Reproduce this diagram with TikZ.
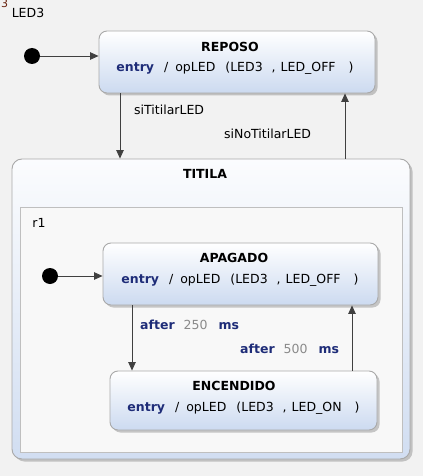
\documentclass[tikz,border=0pt]{standalone}
\usepackage{fontspec}
\setmainfont{DejaVu Sans}
\usetikzlibrary{arrows.meta,shadows,calc}
\definecolor{bg}{HTML}{F2F2F2}
\definecolor{kw}{RGB}{30,44,120}
\definecolor{num}{HTML}{8A8A8A}
\definecolor{bord}{HTML}{A9A9A9}
\definecolor{lnk}{HTML}{404040}
\definecolor{stbot}{HTML}{CCDAF0}
\definecolor{regfill}{HTML}{F8F8F8}
\definecolor{tinyred}{HTML}{6A2410}
\newcommand\myentry[1]{\textcolor{kw}{\textbf{entry}}\hspace{10pt}/\hspace{7pt}opLED\hspace{10pt}(LED3\hspace{9pt},\hspace{5pt}#1\hspace{13pt})}
\begin{document}
\begin{tikzpicture}[x=1pt,y=-1pt,
  every node/.style={font=\fontsize{12.5}{15}\selectfont, inner sep=0pt},
  statebox/.style={draw=bord, line width=0.9pt, rounded corners=8pt, top color=white, bottom color=stbot,
     drop shadow={shadow xshift=2.5pt, shadow yshift=-2.5pt, opacity=0.35, fill=black!60}},
  compbox/.style={draw=bord, line width=0.9pt, rounded corners=10pt, top color=white!60!stbot!20, bottom color=stbot!90,
     drop shadow={shadow xshift=2.5pt, shadow yshift=-2.5pt, opacity=0.35, fill=black!60}},
  regionbox/.style={draw=black!25, line width=0.8pt, fill=regfill},
  initdot/.style={circle, fill=black, minimum size=16pt},
  tr/.style={draw=lnk, line width=0.8pt, -{Triangle[length=8.5pt,width=7.5pt]}},
  ttl/.style={font=\fontsize{12.5}{15}\selectfont\bfseries},
  lbl/.style={font=\fontsize{12.5}{15}\selectfont}
]
\useasboundingbox[fill=bg] (0,0) rectangle (423,476);

% header
\node[text=tinyred, font=\fontsize{11}{12}\selectfont] (sup3) at (4.5,3.5) {3};
\node[lbl] (led3) at (28,13) {LED3};

% REPOSO
\node[statebox, minimum width=276pt, minimum height=62pt] (reposo) at (237,62) {};
\node[ttl] (reposoT) at (230,47) {REPOSO};
\node (reposoE) at (235,68) {\myentry{LED\_OFF}};

% initial 1
\node[initdot] (i1) at (32,56) {};
\draw[tr] (i1) -- (i1 -| reposo.west);

% TITILA
\node[compbox, minimum width=398pt, minimum height=300pt] (titila) at (211,309) {};
\node[ttl] (titilaT) at (205,174) {TITILA};
\node[regionbox, minimum width=382pt, minimum height=245pt] (r1) at (211,329.5) {};
\node[lbl] (r1T) at (39,223) {r1};

% transitions REPOSO <-> TITILA
\coordinate (c1) at (120,0);
\coordinate (c2) at (345,0);
\draw[tr] (reposo.south -| c1) -- (titila.north -| c1);
\draw[tr] (titila.north -| c2) -- (reposo.south -| c2);
\node[lbl, anchor=west] (l1) at (134,110) {siTitilarLED};
\node[lbl, anchor=west] (l2) at (224,134) {siNoTitilarLED};

% APAGADO
\node[statebox, minimum width=275pt, minimum height=62pt] (apagado) at (240.5,274) {};
\node[ttl] (apagadoT) at (234,258) {APAGADO};
\node (apagadoE) at (240,280) {\myentry{LED\_OFF}};

% initial 2
\node[initdot] (i2) at (50,276) {};
\draw[tr] (i2) -- (i2 -| apagado.west);

% ENCENDIDO
\node[statebox, minimum width=267pt, minimum height=59pt] (encendido) at (243.5,400.5) {};
\node[ttl] (encendidoT) at (234,386) {ENCENDIDO};
\node (encendidoE) at (243.5,408) {\myentry{LED\_ON}};

% transitions APAGADO <-> ENCENDIDO
\coordinate (c3) at (132,0);
\coordinate (c4) at (352,0);
\draw[tr] (apagado.south -| c3) -- (encendido.north -| c3);
\draw[tr] (encendido.north -| c4) -- (apagado.south -| c4);
\node[anchor=west] (l3) at (140,325) {\textcolor{kw}{\textbf{after}}\hspace{9pt}\textcolor{num}{250}\hspace{11pt}\textcolor{kw}{\textbf{ms}}};
\node[anchor=west] (l4) at (240,349) {\textcolor{kw}{\textbf{after}}\hspace{9pt}\textcolor{num}{500}\hspace{11pt}\textcolor{kw}{\textbf{ms}}};
\end{tikzpicture}
\end{document}
